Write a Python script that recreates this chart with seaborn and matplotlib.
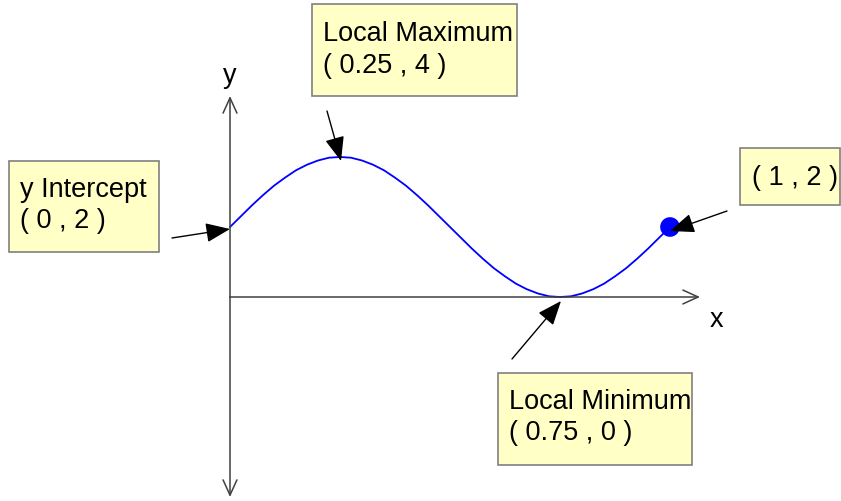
import numpy as np
import seaborn as sns
import matplotlib.pyplot as plt
from matplotlib.patches import Rectangle

curve_x = [0.0, 0.025, 0.05, 0.075, 0.1, 0.125, 0.15, 0.175, 0.2, 0.225,
           0.25, 0.275, 0.3, 0.325, 0.35, 0.375, 0.4, 0.425, 0.45, 0.475,
           0.5, 0.525, 0.55, 0.575, 0.6, 0.625, 0.65, 0.675, 0.7, 0.725,
           0.75, 0.775, 0.8, 0.825, 0.85, 0.875, 0.9, 0.925, 0.95, 0.975, 1.0]
curve_y = [2.00, 2.31, 2.62, 2.91, 3.18, 3.41, 3.62, 3.78, 3.90, 3.98,
           4.00, 3.98, 3.90, 3.78, 3.62, 3.41, 3.18, 2.91, 2.62, 2.31,
           2.00, 1.69, 1.38, 1.09, 0.82, 0.59, 0.38, 0.22, 0.10, 0.02,
           0.00, 0.02, 0.10, 0.22, 0.38, 0.59, 0.82, 1.09, 1.38, 1.69, 2.00]

# annotated points
point_names = ["y Intercept", "Local Maximum", "Local Minimum", ""]
point_x = [0, 0.25, 0.75, 1]
point_y = [2, 4, 0, 2]
point_labels = ["( 0 , 2 )", "( 0.25 , 4 )", "( 0.75 , 0 )", "( 1 , 2 )"]

W, H = 841, 502
X0, Y0 = 230, 298       # pixel position of the origin
SX, SY = 440, 35        # pixels per unit
FS = 19.5


def px(x, y):
    # pixel position -> data position
    return (x - X0) / SX, (Y0 - y) / SY


sns.set_style("white")
plt.rcParams['font.family'] = ['Liberation Sans', 'DejaVu Sans']

fig = plt.figure(figsize=(W / 100, H / 100), dpi=100)
ax = fig.add_axes([0, 0, 1, 1])
ax.set_xlim(px(0, 0)[0], px(W, 0)[0])
ax.set_ylim(px(0, H)[1], px(0, 0)[1])
ax.axis("off")

# axes with open arrow heads
axis_style = dict(arrowstyle="->,head_length=0.55,head_width=0.25",
                  color="#404040", lw=1.1, mutation_scale=20,
                  shrinkA=0, shrinkB=0)
ax.annotate("", xy=px(700, Y0), xytext=(0, 0), arrowprops=axis_style)
ax.annotate("", xy=px(X0, 97), xytext=(0, 0), arrowprops=axis_style)
ax.annotate("", xy=px(X0, 498), xytext=(0, 0), arrowprops=axis_style)
ax.text(*px(230, 83), "y", fontsize=FS, color="black", ha="center", va="baseline")
ax.text(*px(716, 327), "x", fontsize=FS, color="black", ha="center", va="baseline")

sns.lineplot(x=curve_x, y=curve_y, color="#0000FF", lw=1.3, ax=ax)
sns.scatterplot(x=[point_x[3]], y=[point_y[3]], color="#0000FF", s=200,
                edgecolor="none", ax=ax, zorder=5)

# label boxes: pixel rectangles, text start, baselines, arrow tail and tip
boxes = [
    ((9, 162, 159, 253), 20, (197, 228), (172, 239), (230, 230)),
    ((312, 5, 517, 97), 323, (41, 73), (327, 112), (341, 162)),
    ((498, 374, 692, 466), 509, (409, 440), (512, 360), (561, 302)),
    ((740, 149, 840, 206), 752, (None, 185), (727, 212), (670, 232)),
]

for i, (rect, tx, (b1, b2), tail, tip) in enumerate(boxes):
    l, t, r, b = rect
    x_a, y_a = px(l, b)
    x_b, y_b = px(r, t)
    ax.add_patch(Rectangle((x_a, y_a), x_b - x_a, y_b - y_a,
                           facecolor="#FFFFC6", edgecolor="#808080", lw=1.2,
                           zorder=3))
    if b1 is not None:
        ax.text(*px(tx, b1), point_names[i], fontsize=FS, color="black",
                va="baseline", zorder=4)
    ax.text(*px(tx, b2), point_labels[i], fontsize=FS, color="black",
            va="baseline", zorder=4)
    ax.annotate("", xy=px(*tip), xytext=px(*tail),
                arrowprops=dict(arrowstyle="-|>,head_length=0.75,head_width=0.3",
                                color="black", lw=1.0, mutation_scale=20,
                                shrinkA=0, shrinkB=0), zorder=6)

fig.savefig("out.png", dpi=100)
